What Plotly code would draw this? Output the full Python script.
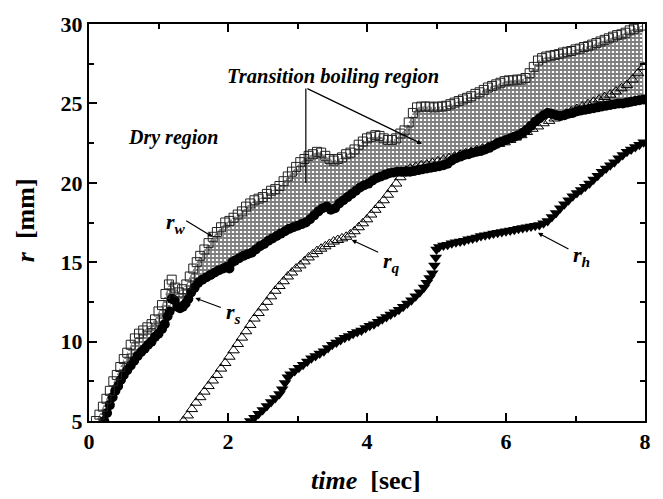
import plotly.graph_objects as go

# ---- data ----
rw_t = [0.10,0.15,0.20,0.25,0.30,0.35,0.40,0.45,0.50,0.55,0.60,0.66,0.72,0.78,0.84,0.90,0.95,1.00,1.05,1.10,
        1.15,1.19,1.24,1.29,1.34,1.40,1.45,1.50,1.55,1.60,1.66,1.72,1.78,1.84,1.90,1.96,2.02,2.08,2.14,2.20,
        2.26,2.32,2.38,2.44,2.50,2.56,2.62,2.68,2.74,2.80,2.86,2.92,2.98,3.04,3.10,3.16,3.22,3.28,3.34,3.40,
        3.46,3.52,3.58,3.64,3.70,3.76,3.82,3.88,3.94,4.00,4.06,4.12,4.18,4.24,4.30,4.36,4.42,4.48,4.54,4.60,
        4.66,4.72,4.78,4.84,4.90,4.96,5.02,5.08,5.14,5.20,5.26,5.32,5.38,5.44,5.50,5.56,5.62,5.68,5.74,5.80,
        5.86,5.92,5.98,6.04,6.10,6.16,6.22,6.28,6.34,6.40,6.46,6.52,6.58,6.64,6.70,6.76,6.82,6.88,6.94,7.00,
        7.06,7.12,7.18,7.24,7.30,7.36,7.42,7.48,7.54,7.60,7.66,7.72,7.78,7.84,7.90,7.96]
rw_r = [5.0,5.4,5.9,6.4,6.9,7.5,7.9,8.4,8.9,9.3,9.8,10.2,10.5,10.7,10.9,11.1,11.4,11.9,12.3,13.0,
        13.6,13.9,13.4,13.1,13.3,13.6,14.1,14.6,15.0,15.4,15.8,16.2,16.6,16.9,17.2,17.5,17.6,17.8,18.0,18.2,
        18.5,18.7,18.9,19.0,19.1,19.3,19.5,19.6,19.8,20.1,20.4,20.7,21.0,21.3,21.5,21.7,21.8,21.95,21.9,21.7,
        21.5,21.4,21.5,21.6,21.8,21.9,22.1,22.4,22.6,22.8,22.9,23.0,22.95,22.8,22.7,22.7,22.8,23.1,23.3,23.8,
        24.4,24.75,24.8,24.8,24.8,24.75,24.8,24.8,24.85,24.95,25.05,25.15,25.25,25.35,25.45,25.6,25.7,25.85,26.0,26.1,
        26.2,26.3,26.4,26.45,26.45,26.5,26.5,26.6,26.9,27.3,27.7,27.85,27.95,28.0,28.05,28.1,28.2,28.25,28.3,28.4,
        28.45,28.55,28.6,28.7,28.8,28.9,29.0,29.1,29.2,29.3,29.35,29.45,29.6,29.7,29.8,29.9]

rs_t = [0.22,0.26,0.30,0.34,0.38,0.42,0.46,0.50,0.55,0.60,0.65,0.70,0.75,0.80,0.85,0.90,0.95,1.00,1.05,1.09,
        1.13,1.16,1.19,1.23,1.27,1.31,1.35,1.39,1.43,1.47,1.52,1.57,1.63,1.69,1.75,1.81,1.87,1.93,1.98,2.02,
        2.06,2.10,2.16,2.22,2.28,2.34,2.40,2.46,2.52,2.58,2.64,2.70,2.76,2.82,2.88,2.94,3.00,3.06,3.12,3.18,
        3.24,3.30,3.36,3.42,3.48,3.54,3.60,3.66,3.72,3.78,3.84,3.90,3.96,4.02,4.08,4.14,4.20,4.26,4.32,4.38,
        4.44,4.50,4.56,4.62,4.68,4.74,4.80,4.86,4.92,4.98,5.04,5.10,5.16,5.22,5.28,5.34,5.40,5.46,5.52,5.58,
        5.64,5.70,5.76,5.82,5.88,5.94,6.00,6.06,6.12,6.18,6.24,6.30,6.36,6.42,6.48,6.54,6.60,6.66,6.72,6.78,
        6.84,6.90,6.96,7.02,7.08,7.14,7.20,7.26,7.32,7.38,7.44,7.50,7.56,7.62,7.68,7.74,7.80,7.86,7.92,7.98]
rs_r = [5.0,5.5,6.0,6.5,6.9,7.2,7.6,7.9,8.2,8.5,8.8,9.1,9.35,9.55,9.8,10.0,10.3,10.5,10.8,11.1,
        11.6,11.9,12.7,12.6,12.2,12.1,12.2,12.4,12.7,13.1,13.4,13.7,13.9,14.05,14.2,14.35,14.5,14.6,14.7,14.6,
        15.0,15.1,15.25,15.4,15.5,15.6,15.8,16.0,16.15,16.35,16.5,16.65,16.8,16.95,17.1,17.2,17.3,17.4,17.5,17.7,
        17.95,18.2,18.4,18.5,18.3,18.4,18.7,18.9,19.1,19.3,19.5,19.7,19.85,19.95,20.15,20.3,20.4,20.5,20.6,20.65,
        20.7,20.7,20.7,20.7,20.75,20.8,20.85,20.9,20.95,21.0,21.05,21.1,21.2,21.4,21.55,21.65,21.75,21.8,21.9,21.95,
        22.0,22.1,22.2,22.35,22.5,22.6,22.7,22.8,22.9,23.0,23.15,23.35,23.6,23.85,24.05,24.25,24.4,24.35,24.25,24.2,
        24.25,24.35,24.4,24.5,24.55,24.6,24.65,24.7,24.75,24.8,24.85,24.9,24.95,25.0,25.0,25.05,25.1,25.15,25.2,25.25]

rq_t = [1.36,1.42,1.48,1.54,1.60,1.66,1.72,1.78,1.84,1.90,1.96,2.02,2.08,2.14,2.20,2.26,2.32,2.38,2.44,2.50,
        2.56,2.62,2.68,2.74,2.80,2.86,2.92,2.98,3.04,3.10,3.16,3.22,3.28,3.34,3.40,3.46,3.52,3.58,3.64,3.70,
        3.76,3.82,3.88,3.94,4.00,4.06,4.12,4.18,4.24,4.30,4.36,4.42,4.48,4.52,4.56,4.62,4.70,4.78,4.86,4.94,
        5.02,5.10,5.18,5.26,5.34,5.42,5.50,5.58,5.66,5.74,5.82,5.90,5.98,6.06,6.14,6.22,6.30,6.38,6.46,6.54,
        6.62,6.70,6.78,6.86,6.94,7.02,7.10,7.18,7.26,7.34,7.42,7.50,7.58,7.66,7.74,7.82,7.90,7.98]
rq_r = [5.0,5.35,5.75,6.15,6.5,6.85,7.2,7.55,7.9,8.3,8.65,9.05,9.45,9.85,10.25,10.65,11.05,11.45,11.8,12.15,
        12.5,12.85,13.2,13.5,13.8,14.1,14.35,14.6,14.8,15.05,15.3,15.5,15.7,15.85,16.0,16.15,16.3,16.4,16.5,16.6,
        16.75,16.95,17.2,17.45,17.7,18.0,18.3,18.6,18.9,19.25,19.6,19.95,20.35,20.6,20.75,20.9,21.0,21.1,21.15,21.25,
        21.35,21.45,21.55,21.65,21.75,21.85,21.95,22.05,22.15,22.25,22.35,22.45,22.55,22.7,22.85,23.0,23.2,23.4,23.55,23.75,
        23.9,24.05,24.2,24.35,24.5,24.65,24.8,24.95,25.1,25.25,25.4,25.55,25.75,25.95,26.15,26.5,26.9,27.3]

rh_t = [2.32,2.38,2.44,2.50,2.56,2.62,2.68,2.74,2.78,2.82,2.86,2.90,2.96,3.02,3.08,3.14,3.20,3.26,3.32,3.38,
        3.44,3.50,3.56,3.62,3.68,3.74,3.80,3.86,3.92,3.98,4.04,4.10,4.16,4.22,4.28,4.34,4.40,4.46,4.52,4.58,
        4.64,4.70,4.76,4.82,4.86,4.90,4.94,4.97,4.99,5.00,5.04,5.10,5.16,5.22,5.28,5.34,5.40,5.46,5.52,5.58,
        5.64,5.70,5.76,5.82,5.88,5.94,6.00,6.06,6.12,6.18,6.24,6.30,6.36,6.42,6.48,6.54,6.60,6.66,6.72,6.78,
        6.84,6.90,6.96,7.02,7.08,7.14,7.20,7.26,7.32,7.38,7.44,7.50,7.56,7.62,7.68,7.74,7.80,7.86,7.92,7.98]
rh_r = [5.0,5.2,5.45,5.7,5.95,6.2,6.45,6.7,7.0,7.4,7.75,7.95,8.15,8.35,8.55,8.75,8.95,9.1,9.25,9.4,
        9.6,9.8,9.95,10.1,10.25,10.35,10.5,10.6,10.7,10.85,11.0,11.1,11.25,11.4,11.55,11.7,11.85,12.0,12.2,12.4,
        12.6,12.85,13.1,13.4,13.7,14.0,14.3,14.8,15.3,15.8,15.95,16.05,16.1,16.2,16.25,16.3,16.35,16.45,16.5,16.55,
        16.65,16.7,16.75,16.8,16.85,16.9,16.95,17.0,17.05,17.1,17.15,17.2,17.25,17.3,17.35,17.45,17.6,17.85,18.1,18.4,
        18.65,18.9,19.15,19.35,19.55,19.75,19.95,20.2,20.45,20.7,20.9,21.1,21.3,21.55,21.75,21.95,22.1,22.25,22.4,22.55]

x_range = [0, 8]
y_range = [5, 30]

SERIF = "Liberation Serif"

fig = go.Figure()

# hatched transition boiling region between r_w and r_s
fig.add_trace(go.Scatter(
    x=rw_t + rs_t[::-1], y=rw_r + rs_r[::-1],
    mode="lines", fill="toself", line=dict(width=0, color="rgba(0,0,0,0)"),
    fillcolor="white",
    fillpattern=dict(shape="+", fgcolor="black", bgcolor="white", size=4, solidity=0.7),
    hoverinfo="skip", showlegend=False))

fig.add_trace(go.Scatter(x=rs_t, y=rs_r, mode="markers",
                         marker=dict(symbol="circle", size=10, color="black"),
                         showlegend=False))
fig.add_trace(go.Scatter(x=rq_t, y=rq_r, mode="markers",
                         marker=dict(symbol="triangle-up-open", size=10, color="black",
                                     line=dict(width=1, color="black")),
                         showlegend=False))
fig.add_trace(go.Scatter(x=rw_t, y=rw_r, mode="markers",
                         marker=dict(symbol="square-open", size=9, color="#222",
                                     line=dict(width=1, color="#222")),
                         showlegend=False))
fig.add_trace(go.Scatter(x=rh_t, y=rh_r, mode="markers",
                         marker=dict(symbol="triangle-down", size=11, color="black"),
                         showlegend=False))

axis_common = dict(showline=True, linewidth=2, linecolor="black", mirror="allticks",
                   ticks="inside", ticklen=8, tickwidth=2, tickcolor="black",
                   showgrid=False, zeroline=False, tickmode="linear",
                   tickfont=dict(family=SERIF, size=22, color="black", weight="bold"))

fig.update_xaxes(range=x_range, tick0=0, dtick=2,
                 minor=dict(ticks="inside", ticklen=5, tickwidth=2, dtick=1, tick0=0,
                            tickcolor="black", showgrid=False),
                 **axis_common)
fig.update_yaxes(range=y_range, tick0=5, dtick=5,
                 minor=dict(ticks="inside", ticklen=5, tickwidth=2, dtick=2.5, tick0=5,
                            tickcolor="black", showgrid=False),
                 **axis_common)

lab_font = dict(family=SERIF, size=22, color="black")
annotations = [
    dict(x=0.498, y=-0.151, xref="paper", yref="paper", xanchor="center", yanchor="middle",
         showarrow=False, text="<b><i>time</i>  [sec]</b>",
         font=dict(family=SERIF, size=26, color="black")),
    dict(x=-0.115, y=0.506, xref="paper", yref="paper", xanchor="center", yanchor="middle",
         showarrow=False, textangle=-90, text="<b><i>r</i>  [mm]</b>",
         font=dict(family=SERIF, size=26, color="black")),
    dict(x=1.21, y=22.87, showarrow=False, text="<b><i>Dry region</i></b>",
         font=dict(family=SERIF, size=20, color="black")),
    dict(x=3.51, y=26.68, showarrow=False, text="<b><i>Transition boiling region</i></b>",
         font=dict(family=SERIF, size=20.5, color="black")),
    # transition region leader lines
    dict(x=3.12, y=19.99, ax=0, ay=-96, text="", showarrow=True, arrowhead=0,
         arrowwidth=1.2, arrowcolor="black"),
    dict(x=4.79, y=22.45, ax=-116, ay=-56, text="", showarrow=True, arrowhead=2, arrowsize=0.8,
         arrowwidth=1.2, arrowcolor="black"),
    # curve labels with arrows
    dict(x=1.78, y=16.6, ax=-28, ay=-17, text="", showarrow=True, arrowhead=2, arrowsize=0.8,
         arrowwidth=1.2, arrowcolor="black"),
    dict(x=1.25, y=17.5, showarrow=False, font=lab_font,
         text="<b><i>r</i></b><sub><b><i>w</i></b></sub>"),
    dict(x=1.53, y=12.74, ax=27, ay=10, text="", showarrow=True, arrowhead=2, arrowsize=0.8,
         arrowwidth=1.2, arrowcolor="black"),
    dict(x=2.08, y=11.8, showarrow=False, font=lab_font,
         text="<b><i>r</i></b><sub><b><i>s</i></b></sub>"),
    dict(x=3.78, y=16.4, ax=28, ay=13, text="", showarrow=True, arrowhead=2, arrowsize=0.8,
         arrowwidth=1.2, arrowcolor="black"),
    dict(x=4.35, y=15.0, showarrow=False, font=lab_font,
         text="<b><i>r</i></b><sub><b><i>q</i></b></sub>"),
    dict(x=6.46, y=16.85, ax=32, ay=17, text="", showarrow=True, arrowhead=2, arrowsize=0.8,
         arrowwidth=1.2, arrowcolor="black"),
    dict(x=7.08, y=15.4, showarrow=False, font=lab_font,
         text="<b><i>r</i></b><sub><b><i>h</i></b></sub>"),
]

fig.update_layout(
    width=663, height=499,
    margin=dict(l=89, r=18, t=14, b=78),
    paper_bgcolor="white", plot_bgcolor="white",
    showlegend=False,
    annotations=annotations,
    font=dict(family=SERIF, color="black"),
)

fig.write_html("out.html")
